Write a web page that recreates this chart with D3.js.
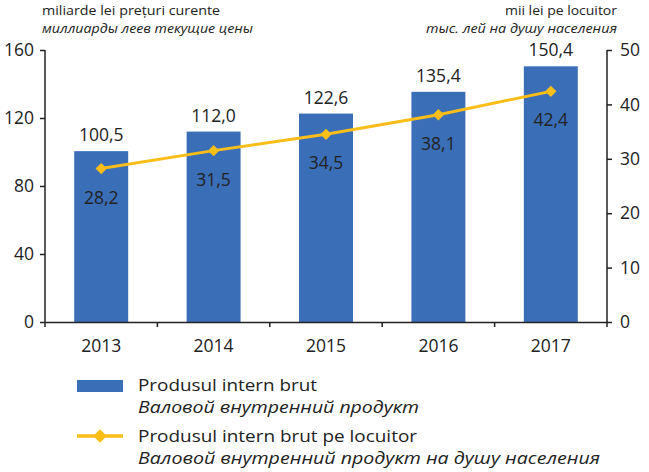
<!DOCTYPE html>
<meta charset="utf-8">
<style>
  body { margin: 0; background: #fff; }
  svg text { font-family: "Open Sans", "Noto Sans", sans-serif; fill: #222; }
</style>
<script src="https://d3js.org/d3.v7.min.js"></script>
<div id="chart"></div>
<script>
  // data
  const years = ["2013", "2014", "2015", "2016", "2017"];
  const gdp = [100.5, 112.0, 122.6, 135.4, 150.4];
  const gdpPerCapita = [28.2, 31.5, 34.5, 38.1, 42.4];
  const leftTicks = [0, 40, 80, 120, 160];
  const rightTicks = [0, 10, 20, 30, 40, 50];

  const W = 649, H = 472;
  const x0 = 45, x1 = 607, yTop = 50, yBot = 322;
  const blue = "#3a6eb7", gold = "#fbbd18";
  const fs = 17.5;
  const fmt = v => v.toFixed(1).replace(".", ",");

  const svg = d3.select("#chart").append("svg")
    .attr("width", W).attr("height", H);

  const x = d3.scaleBand().domain(years).range([x0, x1]).paddingInner(0.52).paddingOuter(0.26);
  const xc = d3.scaleBand().domain(years).range([x0, x1]);
  const yL = d3.scaleLinear().domain([0, 160]).range([yBot, yTop]);
  const yR = d3.scaleLinear().domain([0, 50]).range([yBot, yTop]);

  // bars
  svg.selectAll("rect.bar").data(gdp).enter().append("rect")
    .attr("class", "bar")
    .attr("x", (d, i) => x(years[i]))
    .attr("width", x.bandwidth())
    .attr("y", d => yL(d))
    .attr("height", d => yBot - yL(d))
    .attr("fill", blue);

  svg.selectAll("text.barlab").data(gdp).enter().append("text")
    .attr("x", (d, i) => xc(years[i]) + xc.bandwidth() / 2)
    .attr("y", d => yL(d) - 10)
    .attr("text-anchor", "middle")
    .attr("font-size", fs)
    .text(fmt);

  // axes
  const axisL = svg.append("g").attr("transform", `translate(${x0},0)`)
    .call(d3.axisLeft(yL).tickValues(leftTicks).tickSize(5).tickPadding(6));
  const axisR = svg.append("g").attr("transform", `translate(${x1},0)`)
    .call(d3.axisRight(yR).tickValues(rightTicks).tickSize(5).tickPadding(8));
  const axisB = svg.append("g").attr("transform", `translate(0,${yBot})`)
    .call(d3.axisBottom(xc).tickSize(0).tickPadding(18));
  // category boundary ticks
  svg.selectAll("line.bt").data(d3.range(years.length + 1)).enter().append("line")
    .attr("x1", i => x0 + i * xc.step()).attr("x2", i => x0 + i * xc.step())
    .attr("y1", yBot).attr("y2", yBot + 5)
    .attr("stroke", "#222").attr("stroke-width", 1.5);

  [axisL, axisR, axisB].forEach(g => {
    g.select(".domain").attr("stroke", "#222").attr("stroke-width", 1.5);
    g.selectAll(".tick line").attr("stroke", "#222").attr("stroke-width", 1.5);
    g.selectAll(".tick text").attr("font-size", fs).attr("fill", "#222")
      .style("font-family", '"Open Sans", "Noto Sans", sans-serif');
  });
  axisL.select(".domain").attr("d", `M0,${yTop}H0V${yBot}`);
  axisR.select(".domain").attr("d", `M0,${yTop}H0V${yBot}`);

  // line
  const px = i => xc(years[i]) + xc.bandwidth() / 2;
  svg.append("path").datum(gdpPerCapita)
    .attr("fill", "none").attr("stroke", gold).attr("stroke-width", 3)
    .attr("d", d3.line().x((d, i) => px(i)).y(d => yR(d)));
  const diamond = d3.symbol().type(d3.symbolSquare).size(64);
  svg.selectAll("path.pt").data(gdpPerCapita).enter().append("path")
    .attr("d", diamond)
    .attr("transform", (d, i) => `translate(${px(i)},${yR(d)}) rotate(45)`)
    .attr("fill", gold);
  svg.selectAll("text.linelab").data(gdpPerCapita).enter().append("text")
    .attr("x", (d, i) => px(i))
    .attr("y", d => yR(d) + 35)
    .attr("text-anchor", "middle")
    .attr("font-size", fs)
    .text(fmt);

  // helper for text stretched to a given width
  function label(g, tx, ty, size, txt, len, opts = {}) {
    const t = g.append("text").attr("x", tx).attr("y", ty).attr("font-size", size)
      .attr("textLength", len).attr("lengthAdjust", "spacingAndGlyphs").text(txt);
    if (opts.italic) t.attr("font-style", "italic");
    if (opts.end) t.attr("text-anchor", "end");
    return t;
  }

  // unit titles
  label(svg, 42, 15, 13.5, "miliarde lei prețuri curente", 178);
  label(svg, 42, 33, 13.5, "миллиарды леев текущие цены", 211, {italic: true});
  label(svg, 617, 15, 13.5, "mii lei pe locuitor", 112, {end: true});
  label(svg, 617, 33, 13.5, "тыс. лей на душу населения", 191, {italic: true, end: true});

  // legend
  const lg = svg.append("g");
  lg.append("rect").attr("x", 77).attr("y", 380).attr("width", 46).attr("height", 12).attr("fill", blue);
  label(lg, 138, 391, 16.5, "Produsul intern brut", 179);
  label(lg, 138, 413, 16.5, "Валовой внутренний продукт", 281, {italic: true});
  lg.append("line").attr("x1", 77).attr("x2", 123).attr("y1", 436).attr("y2", 436)
    .attr("stroke", gold).attr("stroke-width", 3.5);
  lg.append("path").attr("d", d3.symbol().type(d3.symbolSquare).size(90))
    .attr("transform", "translate(100,436) rotate(45)").attr("fill", gold);
  label(lg, 138, 442, 16.5, "Produsul intern brut pe locuitor", 279);
  label(lg, 138, 464, 16.5, "Валовой внутренний продукт на душу населения", 462, {italic: true});
</script>
